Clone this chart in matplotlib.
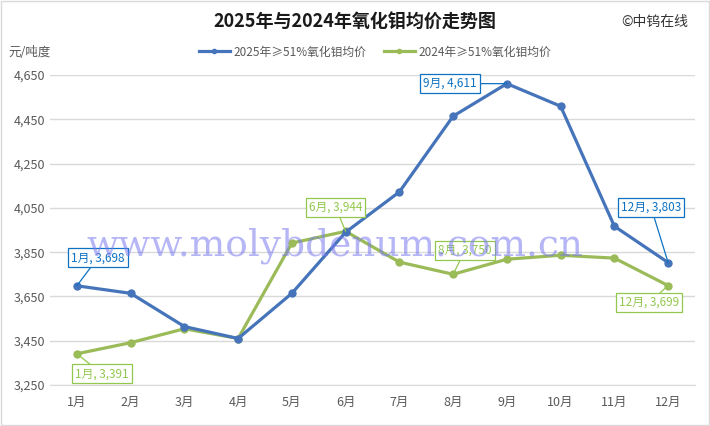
import matplotlib
matplotlib.use('Agg')
import matplotlib.pyplot as plt
from matplotlib.patches import Rectangle

plt.rcParams['font.family'] = ['Noto Sans CJK SC', 'DejaVu Sans']

# Data
months = ['1月', '2月', '3月', '4月', '5月', '6月', '7月', '8月', '9月', '10月', '11月', '12月']
price_2025 = [3698, 3664, 3514, 3460, 3664, 3940, 4122, 4464, 4611, 4509, 3967, 3803]
price_2024 = [3391, 3441, 3504, 3460, 3891, 3944, 3805, 3750, 3818, 3836, 3823, 3699]
yticks = [3250, 3450, 3650, 3850, 4050, 4250, 4450, 4650]

blue = '#4674BA'
green = '#9BBB59'
blue_txt = '#0E72C4'
green_txt = '#92C84E'

fig = plt.figure(figsize=(7.1, 4.26), dpi=100)
ax = fig.add_axes([50 / 710, 1 - 385 / 426, 645 / 710, 310 / 426])

x = list(range(len(months)))

# watermark
fig.text(0.472, 1 - 246 / 426, 'www.molybdenum.com.cn', family='DejaVu Serif',
         fontsize=27, color='#7B7BF0', alpha=0.55, ha='center', va='center', zorder=0)

l1, = ax.plot(x, price_2025, color=blue, lw=2.3, marker='o', ms=5, zorder=4,
              label='2025年≥51%氧化钼均价')
l2, = ax.plot(x, price_2024, color=green, lw=2.3, marker='o', ms=5, zorder=3,
              label='2024年≥51%氧化钼均价')

ax.set_xlim(-0.5, 11.5)
ax.set_ylim(3250, 4650)
ax.set_yticks(yticks)
ax.set_yticklabels([f'{v:,}' for v in yticks])
ax.set_xticks(x)
ax.set_xticklabels(months)
ax.grid(axis='y', color='#D9D9D9', lw=1)
ax.set_axisbelow(True)
for s in ['top', 'right']:
    ax.spines[s].set_visible(False)
ax.spines['left'].set_visible(False)
ax.spines['bottom'].set_color('#D9D9D9')
ax.tick_params(length=0, labelsize=9, colors='#595959')
ax.tick_params(axis='x', pad=8)
ax.patch.set_alpha(0)


def callout(i, vals, dx, dy, tcolor):
    ax.annotate(f'{months[i]}, {vals[i]:,}', xy=(i, vals[i]), xytext=(dx, dy),
                textcoords='offset pixels', ha='center', va='center',
                fontsize=8.5, color=tcolor, zorder=6,
                bbox=dict(boxstyle='square,pad=0.25', fc='white', ec=tcolor, lw=0.9),
                arrowprops=dict(arrowstyle='-', color=tcolor, lw=0.9, shrinkA=0, shrinkB=0))


callout(0, price_2025, 21, 28, blue_txt)
callout(8, price_2025, -57, 0, blue_txt)
callout(11, price_2025, -17, 55, blue_txt)
callout(0, price_2024, 25, -20, green_txt)
callout(5, price_2024, -10, 24, green_txt)
callout(7, price_2024, 12, 24, green_txt)
callout(11, price_2024, -19, -17, green_txt)

fig.text(0.5, 1 - 22 / 426, '2025年与2024年氧化钼均价走势图', ha='center', va='center',
         fontsize=13, fontweight='bold', color='#1a1a1a')
fig.text(0.922, 1 - 22 / 426, '©中钨在线', ha='center', va='center', fontsize=10, color='#333333')
fig.text(8 / 710, 1 - 52 / 426, '元/吨度', ha='left', va='center', fontsize=9, color='#595959')

fig.legend(handles=[l1, l2], loc='center', bbox_to_anchor=(375 / 710, 1 - 52 / 426), ncol=2,
           frameon=False, fontsize=8.5, labelcolor='#595959', handlelength=2.6,
           columnspacing=1.5, handletextpad=0.3, markerscale=0.6)

fig.patches.append(Rectangle((0.002, 0.002), 0.996, 0.996, transform=fig.transFigure,
                             fill=False, ec='#D9D9D9', lw=1))

fig.savefig('out.png', dpi=100)
